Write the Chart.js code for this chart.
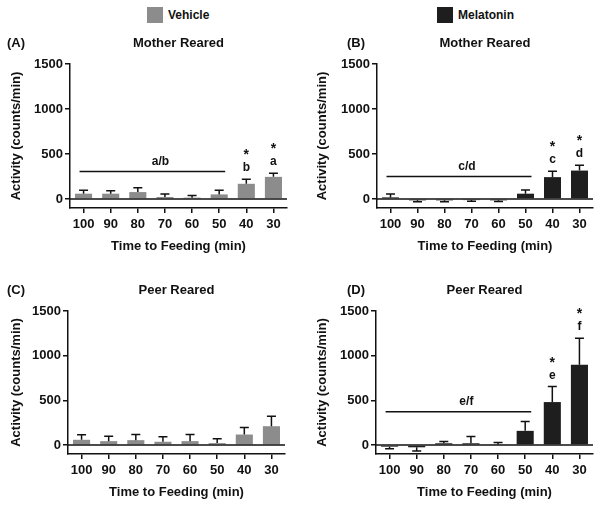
<!DOCTYPE html>
<html>
<head>
<meta charset="utf-8">
<script src="https://cdn.jsdelivr.net/npm/chart.js@4/dist/chart.umd.min.js"></script>
<style>
  body { margin: 0; background: #fff; }
  #page { position: relative; width: 602px; height: 510px; font-family: "Liberation Sans", Arial, sans-serif; color: #111; }
  canvas { position: absolute; }
  .key { position: absolute; top: 7px; height: 16px; font: bold 12px "Liberation Sans", Arial, sans-serif; line-height: 16px; }
  .key i { display: inline-block; width: 16px; height: 16px; vertical-align: top; margin-right: 5px; }
</style>
</head>
<body>
<div id="page">
  <div class="key" style="left:147px"><i style="background:#8c8c8c"></i>Vehicle</div>
  <div class="key" style="left:437px"><i style="background:#1e1e1e"></i>Melatonin</div>
  <canvas id="panelA" width="300" height="255" style="left:0;top:0"></canvas>
  <canvas id="panelB" width="302" height="255" style="left:300px;top:0"></canvas>
  <canvas id="panelC" width="300" height="255" style="left:0;top:255px"></canvas>
  <canvas id="panelD" width="302" height="255" style="left:300px;top:255px"></canvas>
</div>
<script>
const categories = ['100', '90', '80', '70', '60', '50', '40', '30'];
const yTicks = [0, 500, 1000, 1500];

const vehicleMotherMean = [59, 59, 77, 22, 15, 51, 169, 246];
const vehicleMotherSem = [37, 33, 48, 33, 25, 45, 51, 41];
const melatoninMotherMean = [18, -15, -15, -12, -15, 59, 243, 316];
const melatoninMotherSem = [37, 15, 15, 13, 13, 41, 66, 59];
const vehiclePeerMean = [59, 44, 55, 37, 44, 22, 118, 211];
const vehiclePeerSem = [56, 56, 63, 55, 74, 48, 78, 111];
const melatoninPeerMean = [-18, -25, 20, 20, 7, 159, 481, 900];
const melatoninPeerSem = [22, 42, 21, 76, 23, 104, 174, 295];

const VEHICLE = '#8c8c8c';
const MELATONIN = '#1e1e1e';
const INK = '#111';
const FONT = '"Liberation Sans", Arial, sans-serif';

Chart.defaults.font.family = FONT;
Chart.defaults.color = INK;

// error bars, zero line, titles and significance marks
const panelDecor = {
  id: 'panelDecor',
  afterDatasetsDraw(chart, args, opts) {
    const { ctx, chartArea } = chart;
    const x = chart.scales.x;
    const y = chart.scales.y;
    const mean = chart.data.datasets[0].data;
    const sem = opts.sem;

    ctx.save();
    ctx.strokeStyle = INK;
    ctx.lineWidth = 1.5;

    ctx.beginPath();
    ctx.moveTo(chartArea.left, y.getPixelForValue(0));
    ctx.lineTo(chartArea.right, y.getPixelForValue(0));
    ctx.stroke();

    mean.forEach((value, index) => {
      const px = x.getPixelForValue(index);
      const end = value < 0 ? value - sem[index] : value + sem[index];
      const y0 = y.getPixelForValue(value);
      const y1 = y.getPixelForValue(end);
      ctx.beginPath();
      ctx.moveTo(px, y0);
      ctx.lineTo(px, y1);
      ctx.moveTo(px - 4.5, y1);
      ctx.lineTo(px + 4.5, y1);
      ctx.stroke();
    });

    ctx.fillStyle = INK;
    ctx.textAlign = 'center';
    ctx.textBaseline = 'middle';
    ctx.font = `bold 13px ${FONT}`;
    const titleY = chartArea.top - 21;
    ctx.fillText(opts.title, (chartArea.left + chartArea.right) / 2, titleY);
    ctx.textAlign = 'left';
    ctx.fillText(opts.label, opts.labelX, titleY);

    if (opts.group) {
      const start = x.getPixelForValue(0) - 4;
      const stop = x.getPixelForValue(5) + 6;
      const ly = y.getPixelForValue(opts.group.value);
      ctx.beginPath();
      ctx.moveTo(start, ly);
      ctx.lineTo(stop, ly);
      ctx.stroke();
      ctx.textAlign = 'center';
      ctx.font = `bold 12px ${FONT}`;
      ctx.fillText(opts.group.text, (start + stop) / 2 + 8, ly - 10);
    }

    (opts.marks || []).forEach((mark) => {
      const px = x.getPixelForValue(mark.index);
      const top = y.getPixelForValue(mean[mark.index] + sem[mark.index]);
      ctx.textAlign = 'center';
      ctx.textBaseline = 'alphabetic';
      ctx.font = `bold 12px ${FONT}`;
      ctx.fillText(mark.letter, px, top - 8);
      ctx.font = `bold 14px ${FONT}`;
      ctx.fillText('*', px, top - 20);
    });

    ctx.restore();
  }
};

const makePanel = (id, mean, sem, color, setup) => {
  new Chart(document.getElementById(id), {
    type: 'bar',
    data: {
      labels: categories,
      datasets: [{ data: mean, backgroundColor: color, borderWidth: 0, barPercentage: 0.63, categoryPercentage: 1 }]
    },
    options: {
      responsive: false,
      animation: false,
      layout: { padding: { top: setup.top, right: setup.right, left: 0, bottom: setup.bottom } },
      plugins: {
        legend: { display: false },
        tooltip: { enabled: false },
        panelDecor: {
          sem,
          title: setup.title,
          label: setup.label,
          labelX: setup.labelX,
          group: setup.group,
          marks: setup.marks
        }
      },
      scales: {
        x: {
          offset: true,
          afterFit: (scale) => { scale.height = 47; },
          border: { color: INK, width: 1.5 },
          grid: { display: true, offset: false, drawOnChartArea: false, drawTicks: true, tickLength: 5, color: INK, lineWidth: 1.5 },
          ticks: { color: INK, font: { size: 13, weight: 'bold' }, padding: 4, maxRotation: 0 },
          title: { display: true, text: 'Time to Feeding (min)', color: INK, font: { size: 13, weight: 'bold' }, padding: { top: 0, bottom: 1 } }
        },
        y: {
          min: -100,
          max: 1500,
          afterFit: (scale) => { scale.width = setup.axisLeft; },
          afterBuildTicks: (scale) => { scale.ticks = yTicks.map((value) => ({ value })); },
          border: { color: INK, width: 1.5 },
          grid: { display: true, drawOnChartArea: false, drawTicks: true, tickLength: 5, color: INK, lineWidth: 1.5 },
          ticks: { color: INK, font: { size: 13, weight: 'bold' }, padding: 2, callback: (value) => String(value) },
          title: { display: true, text: 'Activity (counts/min)', color: INK, font: { size: 13, weight: 'bold' }, padding: { top: setup.titlePad, bottom: 0 } }
        }
      }
    },
    plugins: [panelDecor]
  });
};

makePanel('panelA', vehicleMotherMean, vehicleMotherSem, VEHICLE, {
  top: 64, right: 13, bottom: 0, axisLeft: 70, titlePad: 9,
  title: 'Mother Reared', label: '(A)', labelX: 7,
  group: { value: 305, text: 'a/b' },
  marks: [{ index: 6, letter: 'b' }, { index: 7, letter: 'a' }]
});

makePanel('panelB', melatoninMotherMean, melatoninMotherSem, MELATONIN, {
  top: 64, right: 9, bottom: 0, axisLeft: 77, titlePad: 15,
  title: 'Mother Reared', label: '(B)', labelX: 47,
  group: { value: 250, text: 'c/d' },
  marks: [{ index: 6, letter: 'c' }, { index: 7, letter: 'd' }]
});

makePanel('panelC', vehiclePeerMean, vehiclePeerSem, VEHICLE, {
  top: 56, right: 15, bottom: 9, axisLeft: 68, titlePad: 9,
  title: 'Peer Reared', label: '(C)', labelX: 7
});

makePanel('panelD', melatoninPeerMean, melatoninPeerSem, MELATONIN, {
  top: 56, right: 9, bottom: 9, axisLeft: 76, titlePad: 15,
  title: 'Peer Reared', label: '(D)', labelX: 47,
  group: { value: 374, text: 'e/f' },
  marks: [{ index: 6, letter: 'e' }, { index: 7, letter: 'f' }]
});
</script>
</body>
</html>
